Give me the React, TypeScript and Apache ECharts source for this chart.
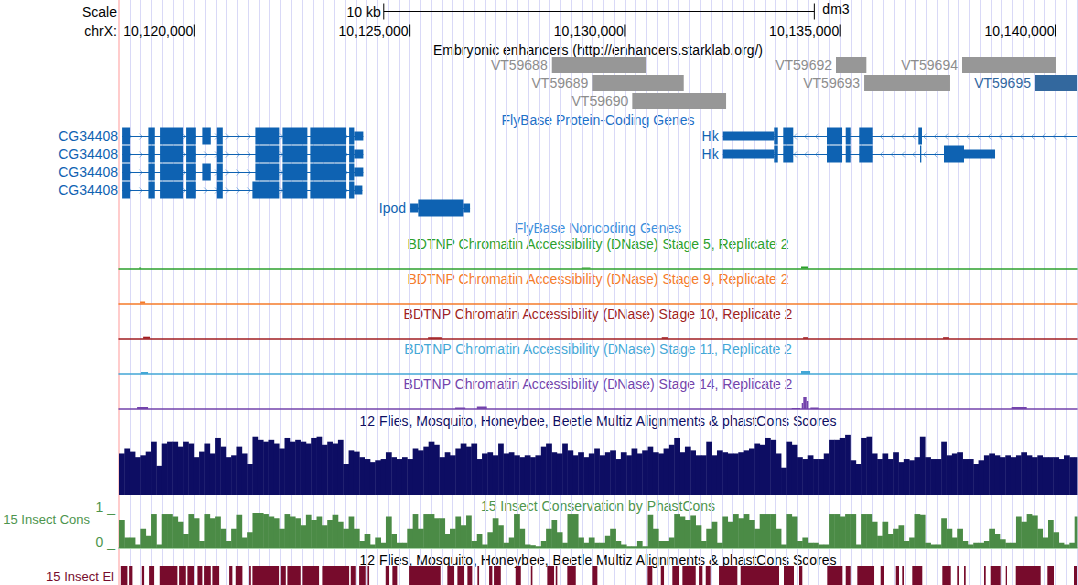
import React, { useEffect, useRef } from "react";
import * as echarts from "echarts";

// ---------- genomic window ----------
const X_MIN = 10118250;
const X_MAX = 10140500;
const GUIDE_BP = 250;
const BIN_BP = 124;

// ---------- ruler ----------
const rulerTicks = [10120000, 10125000, 10130000, 10135000, 10140000];
const scaleBarBp = [10124400, 10134400];
const scaleBarLabel = "10 kb";
const assemblyLabel = "dm3";
const chromLabel = "chrX:";

// ---------- enhancers ----------
const enhancerNames = ["VT59688", "VT59689", "VT59690", "VT59692", "VT59693", "VT59694", "VT59695"];
const enhancerStarts = [10128300, 10129244, 10130173, 10134903, 10135554, 10137829, 10139524];
const enhancerEnds = [10130491, 10131366, 10132349, 10135607, 10137550, 10140012, 10140600];
const enhancerRows = [0, 1, 2, 0, 1, 0, 1];
const enhancerSelected = ["VT59695"];

// ---------- genes ----------
const transcriptNames = ["CG34408", "CG34408", "CG34408", "CG34408", "Hk", "Hk", "Ipod"];
const transcriptRows = [0, 1, 2, 3, 0, 1, 4];
const transcriptStarts = [10118322, 10118322, 10118322, 10118322, 10132272, 10132272, 10125010];
const transcriptEnds = [10123926, 10123926, 10123926, 10123903, 10141000, 10138596, 10126404];
const transcriptStrands = [1, 1, 1, 1, -1, -1, 1];

// [transcript index, start, end, coding(1) / utr(0)]
const exons: number[][] = [
  // CG34408 transcript 0
  [0, 10118322, 10118508, 1], [0, 10118933, 10119081, 1], [0, 10119204, 10119739, 1], [0, 10119808, 10120034, 1],
  [0, 10120187, 10120382, 1], [0, 10120521, 10120661, 1], [0, 10121418, 10121975, 1], [0, 10122045, 10122625, 1],
  [0, 10122695, 10123524, 1], [0, 10123594, 10123717, 1], [0, 10123717, 10123926, 0],
  // CG34408 transcript 1
  [1, 10118322, 10118508, 1], [1, 10118933, 10119081, 1], [1, 10119204, 10119739, 1], [1, 10119808, 10120034, 1],
  [1, 10120521, 10120661, 1], [1, 10121418, 10121975, 1], [1, 10122045, 10122625, 1],
  [1, 10122695, 10123524, 1], [1, 10123594, 10123717, 1], [1, 10123717, 10123926, 0],
  // CG34408 transcript 2
  [2, 10118322, 10118508, 1], [2, 10118933, 10119081, 1], [2, 10119204, 10119739, 1], [2, 10119808, 10120034, 1],
  [2, 10120187, 10120382, 1], [2, 10120521, 10120661, 1], [2, 10121418, 10121975, 1], [2, 10122045, 10122625, 1],
  [2, 10122695, 10123524, 1], [2, 10123594, 10123717, 1], [2, 10123717, 10123926, 0],
  // CG34408 transcript 3
  [3, 10118322, 10118508, 1], [3, 10118933, 10119081, 1], [3, 10119204, 10119739, 1], [3, 10119808, 10120034, 1],
  [3, 10120521, 10120661, 1], [3, 10121348, 10121975, 1], [3, 10122045, 10122625, 1],
  [3, 10122695, 10123524, 1], [3, 10123594, 10123717, 1], [3, 10123717, 10123903, 0],
  // Hk transcript 4
  [4, 10132272, 10133470, 0], [4, 10133470, 10133549, 1], [4, 10133679, 10133911, 1], [4, 10134694, 10135043, 1],
  [4, 10135128, 10135245, 1], [4, 10135444, 10135755, 1], [4, 10136814, 10136900, 1],
  // Hk transcript 5
  [5, 10132272, 10133470, 0], [5, 10133470, 10133549, 1], [5, 10133679, 10133911, 1], [5, 10134694, 10135043, 1],
  [5, 10135128, 10135245, 1], [5, 10135444, 10135755, 1], [5, 10136854, 10136884, 1],
  [5, 10137411, 10137875, 1], [5, 10137875, 10138596, 0],
  // Ipod transcript 6
  [6, 10125010, 10125203, 0], [6, 10125203, 10126248, 1], [6, 10126248, 10126404, 0],
];

// ---------- DNase accessibility [start, end, signal] ----------
const dnaseLabels = [
  "BDTNP Chromatin Accessibility (DNase) Stage 5, Replicate 2",
  "BDTNP Chromatin Accessibility (DNase) Stage 9, Replicate 2",
  "BDTNP Chromatin Accessibility (DNase) Stage 10, Replicate 2",
  "BDTNP Chromatin Accessibility (DNase) Stage 11, Replicate 2",
  "BDTNP Chromatin Accessibility (DNase) Stage 14, Replicate 2",
];
const dnaseStage5 = [[10118717, 10118763, 1], [10129000, 10129200, 1], [10134090, 10134252, 2]];
const dnaseStage9 = [[10118740, 10118856, 2]];
const dnaseStage10 = [[10118810, 10118972, 2], [10125430, 10125750, 1.5], [10130855, 10131000, 1.5], [10134140, 10134252, 1.5], [10137390, 10137525, 1.5]];
const dnaseStage11 = [[10118760, 10118925, 2], [10134090, 10134300, 3]];
const dnaseStage14 = [[10118670, 10118925, 2], [10126055, 10126290, 1.5], [10126560, 10126790, 2.5], [10133874, 10134066, 1], [10134106, 10134143, 6], [10134143, 10134222, 12], [10134222, 10134260, 8], [10134306, 10134500, 1.5], [10138983, 10139331, 2]];

// ---------- conservation (per 124 bp bin from X_MIN) ----------
const multizScores = [
  67, 75, 70, 61, 64, 70, 86, 47, 83, 86, 86, 78, 86, 83, 61, 70, 83, 67, 92, 78,
  61, 64, 78, 67, 50, 94, 89, 86, 89, 83, 75, 92, 86, 89, 86, 83, 92, 94, 81, 86,
  83, 89, 50, 72, 70, 61, 58, 53, 56, 58, 69, 61, 58, 61, 58, 75, 72, 78, 86, 81,
  61, 69, 64, 75, 83, 78, 83, 58, 67, 69, 64, 83, 67, 69, 64, 61, 64, 61, 64, 78,
  83, 69, 67, 83, 72, 64, 69, 61, 67, 75, 64, 69, 72, 58, 69, 64, 75, 67, 72, 78,
  69, 67, 75, 81, 92, 69, 78, 72, 64, 64, 86, 64, 72, 69, 67, 67, 69, 72, 75, 83,
  81, 92, 89, 67, 44, 86, 81, 61, 58, 64, 58, 58, 67, 89, 89, 92, 97, 56, 50, 92,
  94, 67, 58, 67, 58, 69, 53, 58, 56, 61, 94, 61, 58, 58, 86, 64, 67, 69, 58, 58,
  50, 56, 64, 67, 64, 61, 64, 61, 64, 69, 64, 61, 64, 61, 61, 61, 58, 64, 61, 61,
];
const phastConsScores = [
  0.8, 0.3, 0.3, 0.1, 0.55, 0.35, 0.97, 0.1, 0.97, 0.97, 0.9, 0.75, 0.4, 0.97, 0.85, 0.2, 0.97, 0.85, 0.9, 0.55,
  0.2, 0.55, 0.95, 0.3, 0.45, 1.0, 1.0, 0.97, 0.9, 0.85, 0.55, 0.97, 0.9, 0.85, 0.65, 0.95, 0.8, 0.9, 0.65, 0.8,
  0.95, 0.75, 0.55, 0.9, 0.55, 0.2, 0.4, 0.1, 0.3, 0.15, 0.9, 0.4, 0.15, 0.15, 0.55, 0.97, 0.55, 0.97, 0.97, 0.85,
  0.85, 0.4, 0.55, 0.9, 0.65, 0.93, 0.2, 0.4, 0.1, 0.45, 0.85, 0.65, 0.15, 0.3, 0.97, 0.55, 0.1, 0.08, 0.05, 0.2,
  0.55, 0.8, 0.45, 0.15, 0.97, 0.97, 0.3, 0.15, 0.3, 0.15, 0.15, 0.35, 0.55, 0.2, 0.1, 0.05, 0.05, 0.2, 0.05, 0.95,
  0.55, 0.2, 0.2, 0.3, 0.97, 0.9, 0.8, 0.93, 0.65, 0.2, 0.55, 0.75, 0.15, 0.9, 0.75, 0.97, 0.85, 0.97, 0.8, 0.55,
  0.97, 0.97, 0.97, 0.55, 0.1, 0.97, 0.9, 0.2, 0.3, 0.15, 0.15, 0.1, 0.1, 0.97, 0.97, 0.9, 0.97, 0.97, 0.1, 0.97,
  0.97, 0.75, 0.35, 0.75, 0.4, 0.55, 0.65, 0.2, 0.3, 0.97, 0.95, 0.15, 0.1, 0.1, 0.85, 0.55, 0.3, 0.55, 0.2, 0.1,
  0.15, 0.15, 0.2, 0.55, 0.4, 0.25, 0.15, 0.15, 0.9, 0.75, 0.97, 0.93, 0.55, 0.3, 0.8, 0.45, 0.15, 0.1, 0.15, 0.9,
];

// ---------- conserved elements ----------
const elementStarts = [
  10118292, 10118485, 10118779, 10118949, 10119197, 10119646, 10119838, 10120071, 10120226, 10120419,
  10120807, 10120962, 10121271, 10121348, 10122007, 10122161, 10122509, 10122974, 10123633, 10123826,
  10124019, 10124446, 10124599, 10124987, 10125876, 10126109, 10126341, 10126573, 10126845, 10126961,
  10127465, 10127813, 10128199, 10128394, 10128663, 10129244, 10130521, 10130832, 10131101, 10131334,
  10131722, 10131877, 10132186, 10132690, 10133695, 10134043, 10134701, 10135128, 10135398, 10135941,
  10136289, 10136443, 10136675, 10137372, 10137720, 10137876, 10138340, 10138496, 10138844, 10139076,
  10139810, 10140430,
];
const elementEnds = [
  10118445, 10118561, 10118833, 10119065, 10119606, 10119801, 10119994, 10120187, 10120382, 10120575,
  10120883, 10121116, 10121311, 10121968, 10122124, 10122472, 10122897, 10123594, 10123749, 10123981,
  10124058, 10124522, 10124715, 10125723, 10126032, 10126264, 10126457, 10126613, 10126922, 10127117,
  10127581, 10127851, 10128354, 10128431, 10128858, 10129360, 10130637, 10130909, 10131257, 10131645,
  10131798, 10131993, 10132611, 10133579, 10133927, 10134120, 10135050, 10135245, 10135786, 10136018,
  10136366, 10136482, 10136907, 10137567, 10137759, 10137915, 10138380, 10138728, 10138874, 10139657,
  10139966, 10140500,
];

// ---------- track titles ----------
const titleEnhancers = "Embryonic enhancers (http://enhancers.starklab.org/)";
const titleCoding = "FlyBase Protein-Coding Genes";
const titleNoncoding = "FlyBase Noncoding Genes";
const titleMultiz = "12 Flies, Mosquito, Honeybee, Beetle Multiz Alignments & phastCons Scores";
const titlePhast = "15 Insect Conservation by PhastCons";
const phastSideLabel = "15 Insect Cons";
const elementsSideLabel = "15 Insect El";

// ---------- style ----------
const FAMILY = "'Liberation Sans', Arial, Helvetica, sans-serif";
const FONT = "14px " + FAMILY;
const SIDE_FONT = "13px " + FAMILY;
const GENE_BLUE = "#0e62b2";
const CHEVRON = "#86b6e4";
const DNASE_COLORS = ["#2ca02c", "#f57b2a", "#a01e22", "#43a7d6", "#7343ab"];
const NAVY = "#0d0d63";
const GREEN = "#4b8b46";
const ELEM = "#770b2c";

const L = 119;
const W = 958;
const CX = L + W / 2;
const dnaseBaselines = [268.5, 303.5, 338.7, 374, 409];

function textEl(text: string, x: number, y: number, fill: string, align = "center", font = FONT) {
  return {
    type: "text",
    silent: true,
    style: {
      text, x, y, fill, font,
      textAlign: align, align, textVerticalAlign: "middle", verticalAlign: "middle",
    },
  };
}

function fmt(v: number) {
  return String(v).replace(/\B(?=(\d{3})+(?!\d))/g, ",");
}

function buildOption() {
  const grids: any[] = [
    { top: 0, height: 585 },
    { top: 2, height: 38 },
    { top: 56, height: 54 },
    { top: 127, height: 90 },
    ...dnaseBaselines.map((b) => ({ top: b - 14, height: 14 })),
    { top: 433, height: 62 },
    { top: 513, height: 35 },
    { top: 566, height: 19 },
  ].map((g) => ({ ...g, left: L, width: W, containLabel: false }));

  const yRange = [[0, 1], [0, 2], [0, 3], [0, 5], [0, 14], [0, 14], [0, 14], [0, 14], [0, 14], [0, 100], [0, 1], [0, 1]];
  const yInv = [false, true, true, true, false, false, false, false, false, false, false, false];

  const xAxis = grids.map((_, i) => {
    const isBg = i === 0;
    const isDnase = i >= 4 && i <= 8;
    const isGreen = i === 10;
    const base: any = {
      type: "value", gridIndex: i, min: X_MIN, max: X_MAX,
      show: isBg || isDnase || isGreen,
      axisLabel: { show: false }, axisTick: { show: false },
      splitLine: { show: false }, axisLine: { show: false },
    };
    if (isBg) {
      base.interval = GUIDE_BP;
      base.splitLine = { show: true, lineStyle: { color: "#d9d9f7", width: 1 } };
    }
    if (isDnase) base.axisLine = { show: true, onZero: false, lineStyle: { color: DNASE_COLORS[i - 4], width: 1.5 } };
    if (isGreen) base.axisLine = { show: true, onZero: false, lineStyle: { color: "#a6d2a6", width: 2 } };
    return base;
  });

  const yAxis = grids.map((_, i) => ({
    type: "value", gridIndex: i, min: yRange[i][0], max: yRange[i][1], inverse: yInv[i],
    show: i === 0,
    axisLine: { show: i === 0, lineStyle: { color: "#ffcccc", width: 2 } },
    axisLabel: { show: false }, axisTick: { show: false }, splitLine: { show: false },
  }));

  const series: any[] = [];

  // ruler ticks
  series.push({
    type: "custom", xAxisIndex: 1, yAxisIndex: 1, silent: true,
    data: rulerTicks.map((v) => [v, 1.5]),
    renderItem: (_p: any, api: any) => {
      const v = api.value(0);
      const p = api.coord([v, 1.5]);
      return {
        type: "group",
        children: [
          { type: "line", shape: { x1: p[0], y1: p[1] - 6, x2: p[0], y2: p[1] + 6 }, style: { stroke: "#000", lineWidth: 1 } },
          textEl(fmt(v), p[0] - 1, p[1], "#000", "right"),
        ],
      };
    },
  });

  // scale bar
  series.push({
    type: "custom", xAxisIndex: 1, yAxisIndex: 1, silent: true,
    data: [[scaleBarBp[0], scaleBarBp[1]]],
    encode: { x: [0, 1] },
    renderItem: (_p: any, api: any) => {
      const a = api.coord([api.value(0), 0.5]);
      const b = api.coord([api.value(1), 0.5]);
      const y = a[1];
      return {
        type: "group",
        children: [
          { type: "line", shape: { x1: a[0], y1: y, x2: b[0], y2: y }, style: { stroke: "#000", lineWidth: 1 } },
          { type: "line", shape: { x1: a[0], y1: y - 8, x2: a[0], y2: y + 8 }, style: { stroke: "#000", lineWidth: 1 } },
          { type: "line", shape: { x1: b[0], y1: y - 8, x2: b[0], y2: y + 8 }, style: { stroke: "#000", lineWidth: 1 } },
          textEl(scaleBarLabel, a[0] - 3, y, "#000", "right"),
          textEl(assemblyLabel, b[0] + 8, y - 2.5, "#000", "left"),
        ],
      };
    },
  });

  // enhancers
  series.push({
    type: "custom", xAxisIndex: 2, yAxisIndex: 2, silent: true,
    data: enhancerStarts.map((s, i) => [s, enhancerEnds[i], enhancerRows[i]]),
    encode: { x: [0, 1], y: 2 },
    renderItem: (p: any, api: any) => {
      const name = enhancerNames[p.dataIndex];
      const sel = enhancerSelected.indexOf(name) >= 0;
      const row = api.value(2);
      const s = api.coord([api.value(0), row]);
      const e = api.coord([Math.min(api.value(1), X_MAX), row + 1]);
      const color = sel ? "#33689e" : "#979797";
      return {
        type: "group",
        children: [
          { type: "rect", shape: { x: s[0], y: s[1] + 1, width: e[0] - s[0], height: e[1] - s[1] - 2 }, style: { fill: color } },
          textEl(name, s[0] - 4, (s[1] + e[1]) / 2, sel ? "#2f65a0" : "#8c8c8c", "right"),
        ],
      };
    },
  });

  // transcripts (line + chevrons + label)
  series.push({
    type: "custom", xAxisIndex: 3, yAxisIndex: 3, silent: true,
    data: transcriptStarts.map((s, i) => [s, transcriptEnds[i], transcriptRows[i]]),
    encode: { x: [0, 1], y: 2 },
    renderItem: (p: any, api: any) => {
      const i = p.dataIndex;
      const row = api.value(2);
      const a = api.coord([api.value(0), row + 0.5]);
      const b = api.coord([Math.min(api.value(1), X_MAX), row + 0.5]);
      const y = Math.round(a[1]) + 0.5;
      const children: any[] = [];
      const dir = transcriptStrands[i];
      for (let x = a[0] + 8; x < b[0] - 3; x += 10.8) {
        const pts = dir > 0
          ? [[x - 1.5, y - 3], [x + 1.5, y], [x - 1.5, y + 3]]
          : [[x + 1.5, y - 3], [x - 1.5, y], [x + 1.5, y + 3]];
        children.push({ type: "polyline", shape: { points: pts }, style: { stroke: CHEVRON, lineWidth: 1, fill: null } });
      }
      children.push({ type: "line", shape: { x1: a[0], y1: y, x2: b[0], y2: y }, style: { stroke: GENE_BLUE, lineWidth: 1 } });
      children.push(textEl(transcriptNames[i], a[0] - 4, a[1], GENE_BLUE, "right"));
      return { type: "group", children };
    },
  });

  // exons
  series.push({
    type: "custom", xAxisIndex: 3, yAxisIndex: 3, silent: true,
    data: exons.map((e) => [e[1], e[2], transcriptRows[e[0]], e[3]]),
    encode: { x: [0, 1], y: 2 },
    renderItem: (_p: any, api: any) => {
      const row = api.value(2);
      const coding = api.value(3) === 1;
      const a = api.coord([api.value(0), row]);
      const b = api.coord([Math.min(api.value(1), X_MAX), row + 1]);
      const h = b[1] - a[1];
      const pad = coding ? 0.5 : h * 0.25;
      return {
        type: "rect",
        shape: { x: a[0], y: a[1] + pad, width: Math.max(b[0] - a[0], 1), height: h - 2 * pad },
        style: { fill: GENE_BLUE },
      };
    },
  });

  // DNase tracks
  [dnaseStage5, dnaseStage9, dnaseStage10, dnaseStage11, dnaseStage14].forEach((d, k) => {
    series.push({
      type: "custom", xAxisIndex: 4 + k, yAxisIndex: 4 + k, silent: true,
      data: d,
      encode: { x: [0, 1], y: 2 },
      renderItem: (_p: any, api: any) => {
        const a = api.coord([api.value(0), 0]);
        const b = api.coord([api.value(1), api.value(2)]);
        return {
          type: "rect",
          shape: { x: a[0], y: b[1], width: Math.max(b[0] - a[0], 1), height: a[1] - b[1] },
          style: { fill: DNASE_COLORS[k] },
        };
      },
    });
  });

  // multiz conservation
  const binRender = (color: string) => (_p: any, api: any) => {
    const s = api.value(0);
    const e = Math.min(s + BIN_BP, X_MAX);
    const a = api.coord([s, 0]);
    const b = api.coord([e, api.value(1)]);
    return {
      type: "rect",
      shape: { x: a[0], y: b[1], width: b[0] - a[0] + 0.4, height: a[1] - b[1] },
      style: { fill: color },
    };
  };
  series.push({
    type: "custom", xAxisIndex: 9, yAxisIndex: 9, silent: true,
    data: multizScores.map((v, i) => [X_MIN + i * BIN_BP, v]),
    renderItem: binRender(NAVY),
  });
  series.push({
    type: "custom", xAxisIndex: 10, yAxisIndex: 10, silent: true,
    data: phastConsScores.map((v, i) => [X_MIN + i * BIN_BP, v]),
    renderItem: binRender(GREEN),
  });

  // conserved elements
  series.push({
    type: "custom", xAxisIndex: 11, yAxisIndex: 11, silent: true,
    data: elementStarts.map((s, i) => [s, elementEnds[i]]),
    encode: { x: [0, 1] },
    renderItem: (_p: any, api: any) => {
      const a = api.coord([api.value(0), 0]);
      const b = api.coord([Math.min(api.value(1), X_MAX), 1]);
      return {
        type: "rect",
        shape: { x: a[0], y: b[1], width: Math.max(b[0] - a[0], 1), height: a[1] - b[1] },
        style: { fill: ELEM },
      };
    },
  });

  const graphic: any[] = [
    textEl("Scale", 117, 12, "#000", "right"),
    textEl(chromLabel, 117, 31, "#000", "right"),
    textEl(titleEnhancers, CX, 50, "#000"),
    textEl(titleCoding, CX, 120, "#1c70c8"),
    textEl(titleNoncoding, CX, 227.5, "#3d8fdd"),
    ...dnaseLabels.map((t, k) => textEl(t, CX, [244, 279.3, 314.3, 349.3, 384.3][k], DNASE_COLORS[k])),
    textEl(titleMultiz, CX, 421, "#0d0d63"),
    textEl(titlePhast, CX, 506, "#4c944c"),
    textEl(phastSideLabel, 90, 519, "#4c944c", "right", SIDE_FONT),
    textEl("1 _", 115, 507, "#4c944c", "right"),
    textEl("0 _", 115, 542, "#4c944c", "right"),
    textEl(titleMultiz, CX, 559.5, "#000"),
    textEl(elementsSideLabel, 114, 576, "#770b2c", "right", SIDE_FONT),
  ];

  return {
    animation: false,
    backgroundColor: "#ffffff",
    textStyle: { fontFamily: FAMILY },
    grid: grids,
    xAxis,
    yAxis,
    series,
    graphic,
  };
}

export default function App() {
  const ref = useRef<HTMLDivElement>(null);
  useEffect(() => {
    const chart = echarts.init(ref.current as HTMLDivElement, null, { renderer: "svg" });
    chart.setOption(buildOption() as any);
    return () => chart.dispose();
  }, []);
  return (
    <div
      ref={ref}
      style={{ position: "absolute", left: 0, top: 0, width: 1078, height: 585, background: "#fff" }}
    />
  );
}
